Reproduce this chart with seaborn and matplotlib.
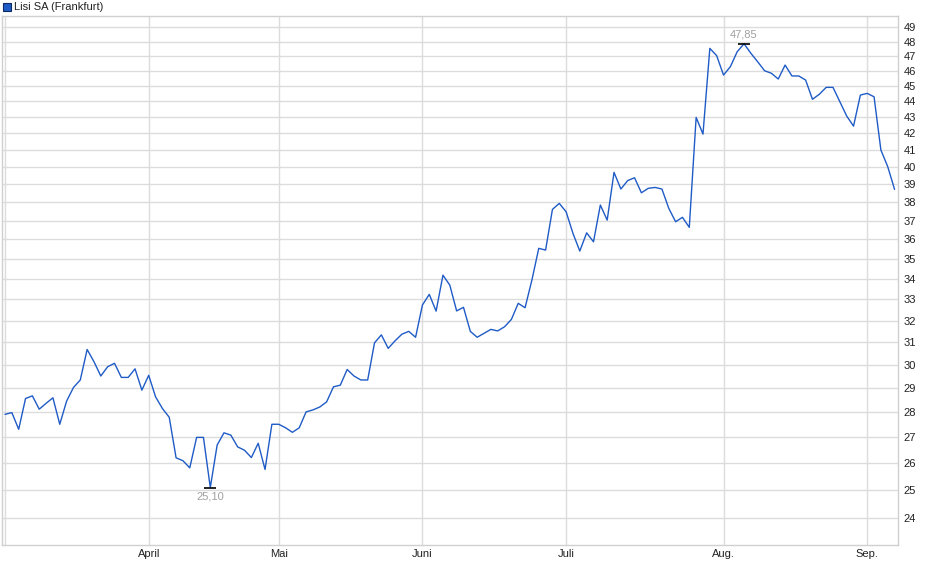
import numpy as np
import pandas as pd
import matplotlib
matplotlib.use("Agg")
import matplotlib.pyplot as plt
import seaborn as sns
from matplotlib.patches import Rectangle

# Kursdaten (Handelstage, Index 0..130)
kurse = [27.92, 27.99, 27.32, 28.57, 28.68, 28.13, 28.37, 28.60, 27.52, 28.46,
         29.03, 29.35, 30.68, 30.14, 29.52, 29.92, 30.07, 29.46, 29.46, 29.83,
         28.92, 29.55, 28.64, 28.16, 27.80, 26.21, 26.10, 25.83, 27.00, 27.00,
         25.10, 26.70, 27.18, 27.09, 26.63, 26.50, 26.22, 26.77, 25.77, 27.52,
         27.52, 27.38, 27.20, 27.38, 28.02, 28.10, 28.22, 28.43, 29.06, 29.13,
         29.80, 29.52, 29.35, 29.35, 30.98, 31.34, 30.73, 31.07, 31.37, 31.50,
         31.23, 32.73, 33.24, 32.44, 34.18, 33.69, 32.45, 32.62, 31.50, 31.23,
         31.41, 31.59, 31.52, 31.71, 32.05, 32.81, 32.60, 33.94, 35.54, 35.45,
         37.61, 37.94, 37.48, 36.32, 35.40, 36.35, 35.88, 37.85, 37.03, 39.69,
         38.74, 39.22, 39.38, 38.53, 38.78, 38.83, 38.74, 37.67, 36.94, 37.18,
         36.64, 42.99, 41.96, 47.53, 47.03, 45.72, 46.28, 47.30, 47.85, 47.19,
         46.61, 46.01, 45.84, 45.46, 46.39, 45.66, 45.66, 45.39, 44.14, 44.46,
         44.91, 44.91, 43.98, 43.08, 42.45, 44.41, 44.52, 44.30, 41.00, 40.02,
         38.72]

# Monatsanfänge (Index des ersten Handelstags) und Beschriftung
monat_idx = [0, 21, 40, 61, 82, 105, 126]
monat_labels = ["", "April", "Mai", "Juni", "Juli", "Aug.", "Sep."]

y_ticks = list(range(24, 50))

df = pd.DataFrame({"tag": np.arange(len(kurse)), "kurs": kurse})

sns.set_style("white")
plt.rcParams["font.family"] = ["Liberation Sans", "DejaVu Sans"]

fig = plt.figure(figsize=(9.4, 5.79), dpi=100)
ax = fig.add_axes([2 / 940, 34 / 579, 896 / 940, 529 / 579])

linie = "#1f5bc6"
sns.lineplot(data=df, x="tag", y="kurs", ax=ax, color=linie, linewidth=1.0)

ax.set_yscale("log")
ax.set_ylim(23.09, 49.82)
ax.set_xlim(-0.44, 130.5)

ax.set_yticks(y_ticks)
ax.set_yticklabels([str(v) for v in y_ticks])
ax.yaxis.set_minor_locator(matplotlib.ticker.NullLocator())
ax.yaxis.tick_right()
ax.set_xticks(monat_idx)
ax.set_xticklabels(monat_labels)

ax.grid(True, color="#dcdcdc", linewidth=1.0)
ax.set_axisbelow(True)
ax.tick_params(axis="both", length=0, labelsize=8, colors="#222222")
ax.tick_params(axis="y", pad=4)
ax.tick_params(axis="x", pad=3)
for s in ax.spines.values():
    s.set_color("#d0d0d0")
    s.set_linewidth(1.0)
ax.set_xlabel("")
ax.set_ylabel("")

# Hoch / Tief markieren
i_max = int(np.argmax(kurse))
i_min = int(np.argmin(kurse))
ax.plot(i_max, kurse[i_max], marker="_", color="black", markersize=8, markeredgewidth=1.2)
ax.plot(i_min, kurse[i_min], marker="_", color="black", markersize=8, markeredgewidth=1.2)
ax.annotate(f"{kurse[i_max]:.2f}".replace(".", ","), (i_max, kurse[i_max]),
            xytext=(0, 3), textcoords="offset points", ha="center", va="bottom",
            fontsize=8, color="#a0a0a0")
ax.annotate(f"{kurse[i_min]:.2f}".replace(".", ","), (i_min, kurse[i_min]),
            xytext=(0, -3), textcoords="offset points", ha="center", va="top",
            fontsize=8, color="#a0a0a0")

# Legende oben links
fig.patches.append(Rectangle((3 / 940, 1 - 11 / 579), 8 / 940, 8 / 579,
                             transform=fig.transFigure, facecolor=linie,
                             edgecolor="#0b2a66", linewidth=0.8))
fig.text(14 / 940, 1 - 6.5 / 579, "Lisi SA (Frankfurt)", fontsize=8,
         va="center", ha="left", color="#222222")

plt.savefig("out.png", dpi=100)
